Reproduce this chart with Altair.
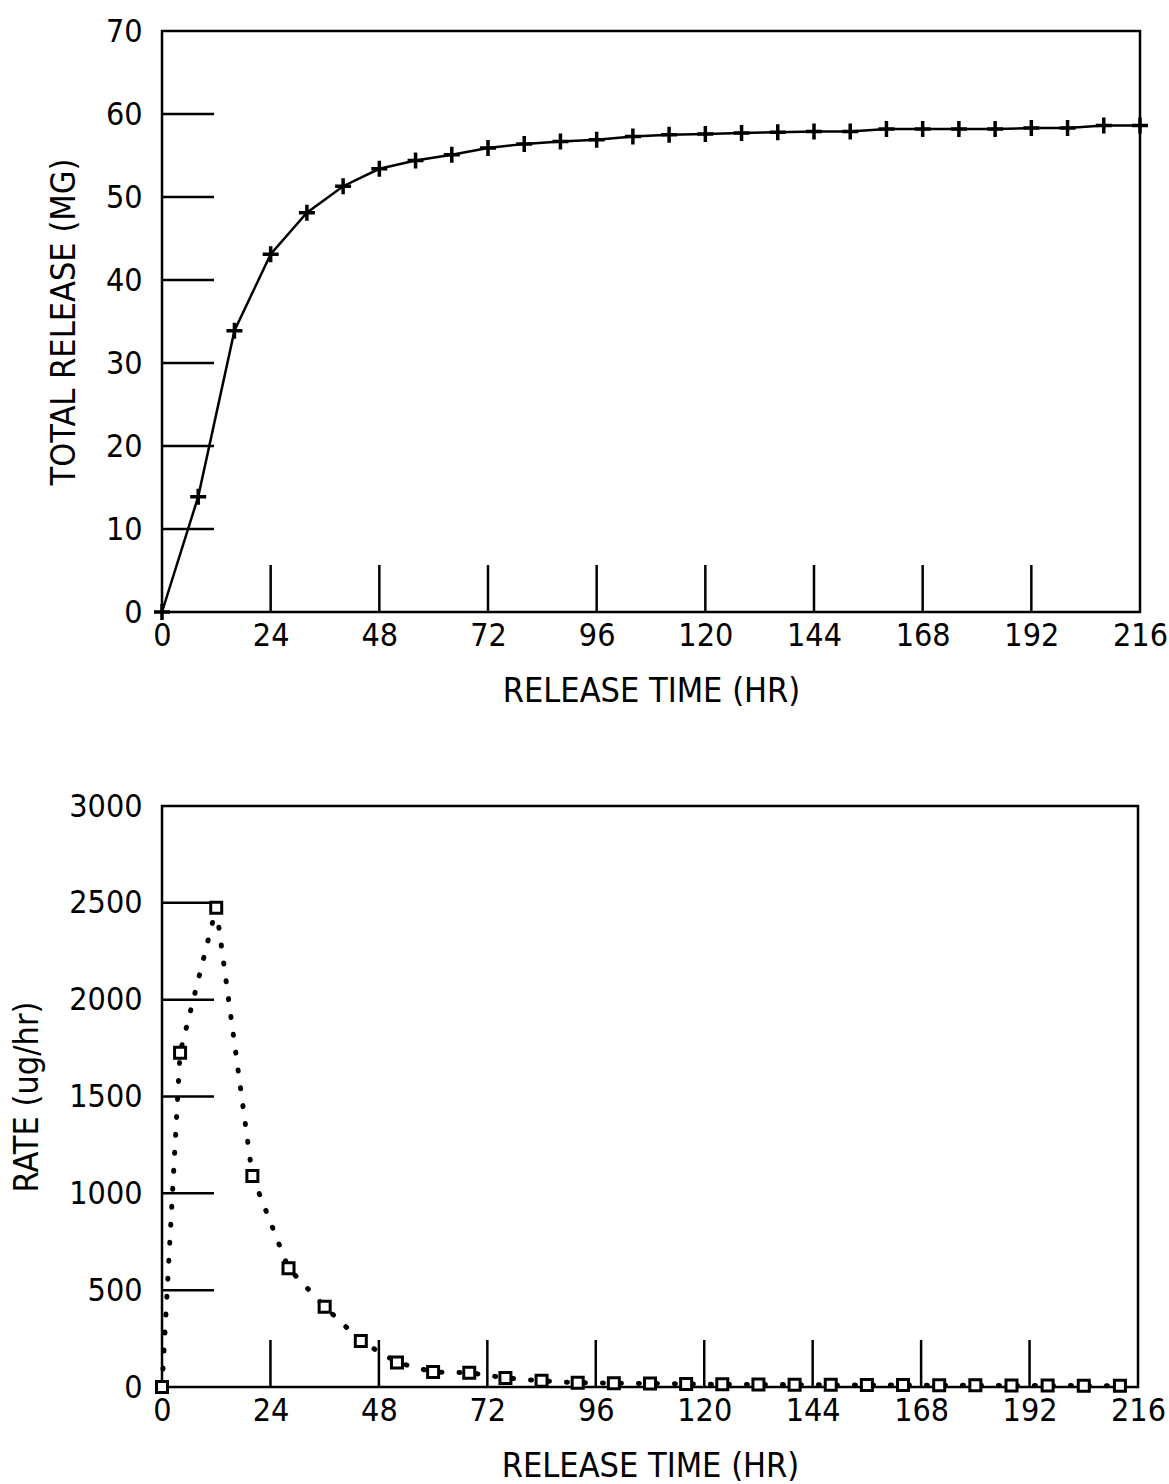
import altair as alt
import pandas as pd

# Cumulative release, sampled every 8 hours
hours_total = [0, 8, 16, 24, 32, 40, 48, 56, 64, 72, 80, 88, 96, 104, 112,
               120, 128, 136, 144, 152, 160, 168, 176, 184, 192, 200, 208, 216]
total_mg = [0.0, 13.9, 33.9, 43.1, 48.1, 51.3, 53.4, 54.4, 55.1, 55.9, 56.4,
            56.7, 56.9, 57.3, 57.5, 57.6, 57.7, 57.8, 57.9, 57.9, 58.2, 58.2,
            58.2, 58.2, 58.3, 58.3, 58.6, 58.6]

# Release rate at the interval midpoints
hours_rate = [0, 4, 12, 20, 28, 36, 44, 52, 60, 68, 76, 84, 92, 100, 108,
              116, 124, 132, 140, 148, 156, 164, 172, 180, 188, 196, 204, 212]
rate_ug = [0, 1726, 2475, 1089, 613, 415, 238, 127, 77, 74, 47, 32, 22, 20,
           18, 16, 14, 13, 12, 11, 10, 10, 9, 9, 8, 8, 7, 7]

# Axis tick values
x_ticks = [0, 24, 48, 72, 96, 120, 144, 168, 192, 216]
x_inner_ticks = [24, 48, 72, 96, 120, 144, 168, 192]
total_ticks = [0, 10, 20, 30, 40, 50, 60, 70]
total_inner_ticks = [10, 20, 30, 40, 50, 60]
rate_ticks = [0, 500, 1000, 1500, 2000, 2500, 3000]
rate_inner_ticks = [500, 1000, 1500, 2000, 2500]

FONT = "DejaVu Sans Condensed, DejaVu Sans, sans-serif"
INK = "black"

x_scale = alt.Scale(domain=[0, 216], nice=False, zero=False)
x_axis = alt.Axis(values=x_ticks, title="RELEASE TIME (HR)", labelPadding=8,
                  titlePadding=23, labelFlush=False, format="d")


def panel(df, yfield, y_ticks, y_inner, y_max, y_title, w, h, marks):
    y_scale = alt.Scale(domain=[0, y_max], nice=False, zero=False)
    y_axis = alt.Axis(values=y_ticks, title=y_title, labelPadding=20,
                      titlePadding=24, labelFlush=False, format="d")
    X = alt.X("hr:Q", scale=x_scale, axis=x_axis)
    Y = alt.Y(f"{yfield}:Q", scale=y_scale, axis=y_axis)

    # tick marks drawn inside the frame
    ytk = alt.Chart(pd.DataFrame({yfield: y_inner})).mark_rule(
        color=INK, strokeWidth=2.5
    ).encode(y=Y, x=alt.value(0), x2=alt.value(52))
    xtk = alt.Chart(pd.DataFrame({"hr": x_inner_ticks})).mark_rule(
        color=INK, strokeWidth=2.5
    ).encode(x=X, y=alt.value(h), y2=alt.value(h - 47))

    series = marks(alt.Chart(df), X, Y)
    return alt.layer(ytk, xtk, *series).properties(width=w, height=h)


def total_marks(base, X, Y):
    line = base.mark_line(color=INK, strokeWidth=2.5).encode(x=X, y=Y)
    crosses = base.mark_point(
        shape="M-1,0L1,0M0,-1L0,1", size=256, filled=False,
        stroke=INK, strokeWidth=3.5, opacity=1
    ).encode(x=X, y=Y)
    return [line, crosses]


def rate_marks(base, X, Y):
    line = base.mark_line(
        color=INK, strokeWidth=5, strokeDash=[1, 17], strokeCap="round"
    ).encode(x=X, y=Y)
    squares = base.mark_point(
        shape="square", size=121, filled=True, fill="white",
        stroke=INK, strokeWidth=3, opacity=1
    ).encode(x=X, y=Y)
    return [line, squares]


total_df = pd.DataFrame({"hr": hours_total, "mg": total_mg})
rate_df = pd.DataFrame({"hr": hours_rate, "rate": rate_ug})

top = panel(total_df, "mg", total_ticks, total_inner_ticks, 70,
            "TOTAL RELEASE (MG)", 978, 581, total_marks)
bottom = panel(rate_df, "rate", rate_ticks, rate_inner_ticks, 3000,
               "RATE (ug/hr)", 976, 581, rate_marks)

chart = alt.vconcat(top, bottom, spacing=78).properties(
    padding={"left": 9, "top": 13, "right": 0, "bottom": 0},
    background="white",
).configure_view(
    stroke=INK, strokeWidth=2.5
).configure_axis(
    domain=False, ticks=False, grid=False,
    labelFont=FONT, labelFontSize=32, labelColor=INK,
    titleFont=FONT, titleFontSize=34, titleFontWeight="normal", titleColor=INK,
)

chart.save("out.html", embed_options={"renderer": "svg", "actions": False})
